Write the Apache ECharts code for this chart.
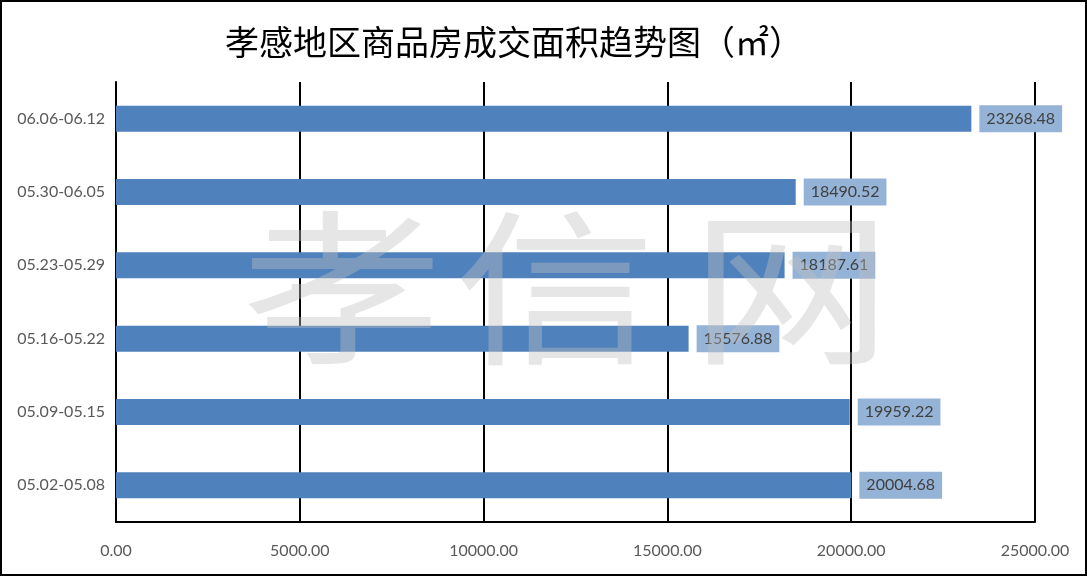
<!DOCTYPE html>
<html>
<head>
<meta charset="utf-8">
<script src="https://cdn.jsdelivr.net/npm/echarts@6/dist/echarts.min.js"></script>
<style>
html,body{margin:0;padding:0;background:#fff;}
#c{width:1087px;height:576px;}
</style>
</head>
<body>
<div id="c"></div>
<script>
const title = '孝感地区商品房成交面积趋势图（㎡）';
const categories = ['05.02-05.08','05.09-05.15','05.16-05.22','05.23-05.29','05.30-06.05','06.06-06.12'];
const values = [20004.68, 19959.22, 15576.88, 18187.61, 18490.52, 23268.48];
const xMin = 0, xMax = 25000, xStep = 5000;
const watermark = ['孝','信','网'];

const chart = echarts.init(document.getElementById('c'));
const wmCenters = [342, 555, 791];
const option = {
  backgroundColor: '#ffffff',
  animation: false,
  title: {
    text: title,
    left: 220, top: 20,
    textStyle: {fontFamily: '"Noto Sans CJK SC"', fontSize: 34, fontWeight: 'normal', color: '#000'}
  },
  grid: {left: 116, right: 52, top: 82, bottom: 54, containLabel: false},
  xAxis: {
    type: 'value', min: xMin, max: xMax, interval: xStep,
    axisLine: {show: true, lineStyle: {color: '#000', width: 2}},
    axisTick: {show: false},
    splitLine: {show: true, lineStyle: {color: '#000', width: 2}},
    axisLabel: {
      formatter: v => v.toFixed(2), color: '#595959', fontSize: 16, fontFamily: 'Lato, "Open Sans", sans-serif', margin: 21
    }
  },
  yAxis: {
    type: 'category', data: categories,
    axisLine: {show: true, lineStyle: {color: '#000', width: 2}},
    axisTick: {show: false},
    axisLabel: {color: '#595959', fontSize: 16, fontFamily: 'Lato, "Open Sans", sans-serif', margin: 11}
  },
  series: [{
    type: 'bar', data: values, barWidth: 26,
    itemStyle: {color: '#4f81bd'},
    label: {
      show: true, position: 'right', distance: 8,
      formatter: p => p.value.toFixed(2),
      color: '#404040', fontSize: 16, fontFamily: 'Lato, "Open Sans", sans-serif',
      backgroundColor: '#95b3d7', padding: [6, 7, 5, 7]
    }
  }],
  graphic: [
    ...watermark.map((ch, i) => ({
      type: 'text', z: 100, silent: true,
      x: wmCenters[i], y: 288, scaleX: 1.15, scaleY: 0.95,
      style: {
        text: ch, fontSize: 175, fontFamily: '"Noto Sans CJK SC"', fontWeight: 'normal',
        fill: 'rgba(192,192,192,0.4)', align: 'center', verticalAlign: 'middle'
      }
    })),
    {type: 'rect', z: 101, silent: true, shape: {x: 1, y: 1, width: 1085, height: 574},
     style: {fill: 'none', stroke: '#000', lineWidth: 2}}
  ]
};
chart.setOption(option);
</script>
</body>
</html>
